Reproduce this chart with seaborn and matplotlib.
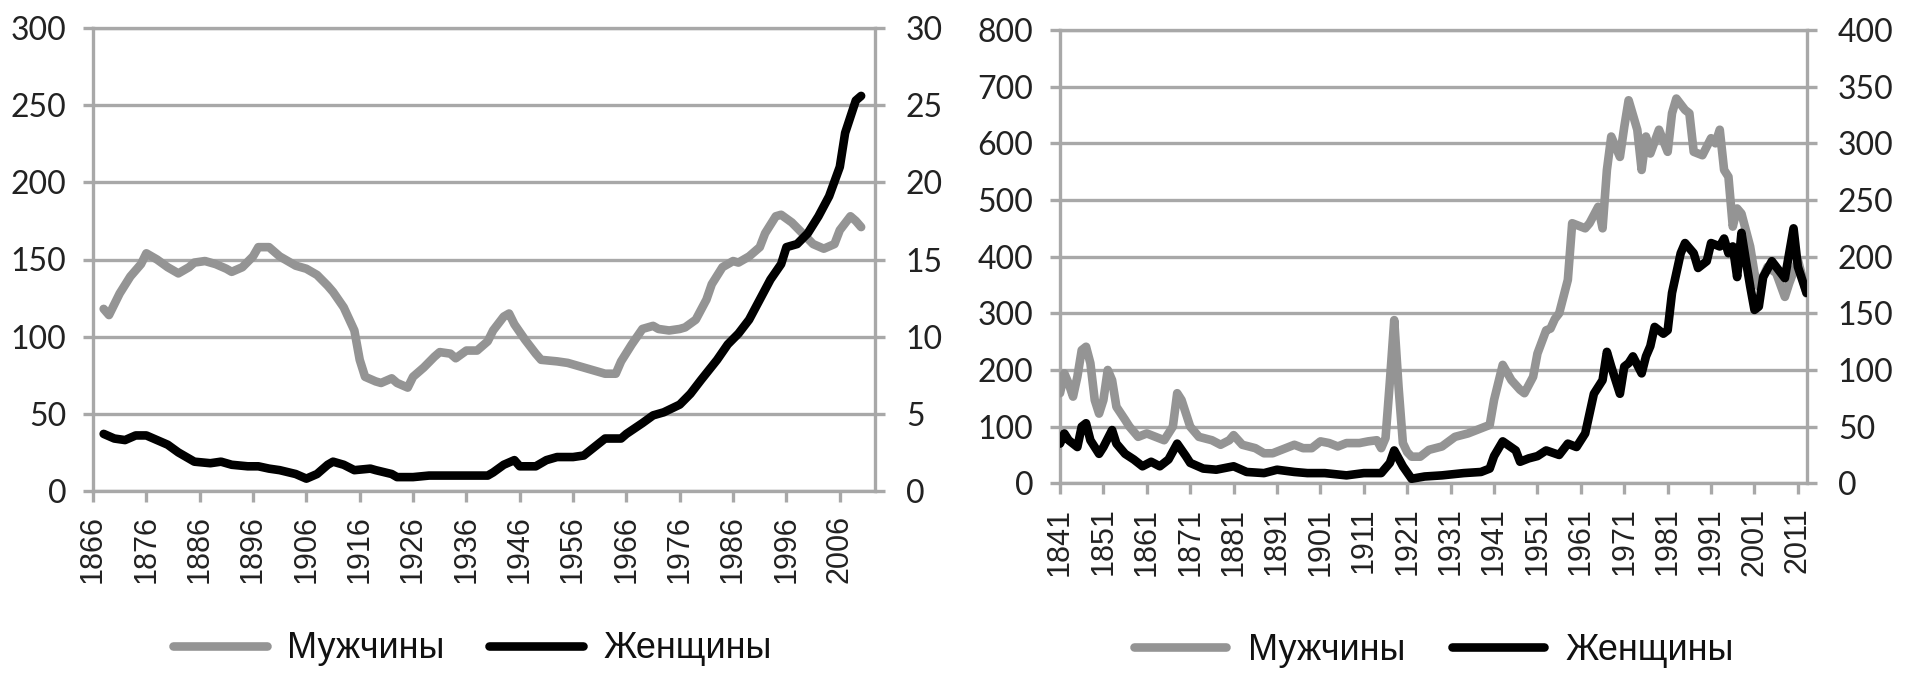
import matplotlib
matplotlib.use("Agg")
import matplotlib.pyplot as plt
from matplotlib.font_manager import FontProperties
import seaborn as sns

# ---------------- data: left chart ----------------
left_men_years = [1868, 1869, 1871, 1873, 1875, 1876, 1878, 1880, 1882, 1884, 1885, 1887, 1889,
                  1891, 1892, 1894, 1896, 1897, 1899, 1901, 1904, 1906, 1908, 1910, 1911, 1913,
                  1915, 1916, 1917, 1919, 1920, 1922, 1923, 1925, 1926, 1928, 1930, 1931, 1933,
                  1934, 1936, 1938, 1940, 1941, 1943, 1944, 1945, 1947, 1949, 1950, 1953, 1955,
                  1957, 1960, 1962, 1964, 1965, 1967, 1969, 1971, 1972, 1974, 1976, 1977, 1979,
                  1981, 1982, 1984, 1986, 1987, 1989, 1991, 1992, 1994, 1995, 1997, 1999, 2001,
                  2003, 2005, 2006, 2008, 2009, 2010]
left_men = [118, 114, 128, 139, 147, 154, 150, 145, 141, 145, 148, 149, 147,
            144, 142, 145, 152, 158, 158, 152, 146, 144, 140, 133, 129, 119,
            104, 85, 74, 71, 70, 73, 70, 67, 74, 80, 87, 90, 89,
            86, 91, 91, 97, 104, 113, 115, 108, 98, 89, 85, 84, 83,
            81, 78, 76, 76, 84, 95, 105, 107, 105, 104, 105, 106, 111,
            124, 134, 145, 149, 148, 152, 158, 167, 178, 179, 174, 167, 160,
            157, 160, 169, 178, 175, 171]

left_women_years = [1868, 1870, 1872, 1874, 1876, 1878, 1880, 1882, 1884, 1885, 1888, 1890, 1892,
                    1895, 1897, 1899, 1901, 1904, 1906, 1908, 1910, 1911, 1913, 1915, 1918, 1919,
                    1922, 1923, 1926, 1929, 1933, 1936, 1940, 1941, 1943, 1945, 1946, 1949, 1951,
                    1953, 1956, 1958, 1960, 1962, 1965, 1966, 1969, 1971, 1973, 1976, 1978, 1980,
                    1983, 1985, 1987, 1989, 1991, 1993, 1995, 1996, 1998, 2000, 2002, 2004, 2006,
                    2007, 2009, 2010]
left_women = [3.7, 3.4, 3.3, 3.6, 3.6, 3.3, 3.0, 2.5, 2.1, 1.9, 1.8, 1.9, 1.7,
              1.6, 1.6, 1.45, 1.35, 1.1, 0.8, 1.1, 1.7, 1.9, 1.7, 1.35, 1.45, 1.35,
              1.1, 0.9, 0.9, 1.0, 1.0, 1.0, 1.0, 1.2, 1.7, 2.0, 1.6, 1.6, 2.0,
              2.2, 2.2, 2.3, 2.85, 3.4, 3.4, 3.7, 4.4, 4.9, 5.1, 5.6, 6.3, 7.2,
              8.5, 9.5, 10.2, 11.1, 12.4, 13.7, 14.7, 15.8, 16.0, 16.7, 17.8, 19.1, 21.0,
              23.2, 25.3, 25.6]

left_xticks = list(range(1866, 2007, 10))
left_y1_ticks = [0, 50, 100, 150, 200, 250, 300]
left_y2_ticks = [0, 5, 10, 15, 20, 25, 30]

# ---------------- data: right chart ----------------
right_men_years = [1841, 1842, 1843, 1844, 1845, 1846, 1847, 1848, 1849, 1850, 1851, 1852, 1853,
                   1854, 1856, 1857, 1859, 1861, 1863, 1865, 1867, 1868, 1869, 1871, 1873, 1876,
                   1878, 1880, 1881, 1883, 1886, 1888, 1890, 1893, 1895, 1897, 1899, 1901, 1903,
                   1905, 1907, 1910, 1912, 1914, 1915, 1916, 1917, 1918, 1919, 1920, 1921, 1922,
                   1924, 1926, 1929, 1932, 1935, 1938, 1940, 1941, 1943, 1945, 1947, 1948, 1950,
                   1951, 1953, 1954, 1955, 1956, 1958, 1959, 1962, 1963, 1965, 1966, 1967, 1968,
                   1970, 1971, 1972, 1974, 1975, 1976, 1977, 1979, 1981, 1982, 1983, 1985, 1986,
                   1987, 1989, 1991, 1992, 1993, 1994, 1995, 1996, 1997, 1998, 2000, 2001, 2002,
                   2004, 2006, 2008, 2009, 2011, 2013]
right_men = [159, 194, 176, 153, 188, 235, 241, 212, 147, 123, 147, 200, 182,
             135, 112, 100, 82, 88, 82, 76, 100, 159, 147, 100, 82, 76,
             68, 76, 85, 68, 62, 53, 53, 62, 68, 62, 62, 74, 71,
             65, 71, 71, 74, 76, 62, 80, 180, 288, 170, 71, 55, 47,
             47, 59, 65, 82, 88, 97, 103, 147, 209, 182, 165, 159, 188,
             229, 270, 273, 290, 300, 359, 459, 450, 459, 488, 450, 553, 612,
             576, 629, 676, 624, 553, 612, 582, 624, 585, 653, 679, 659, 653,
             585, 579, 609, 600, 624, 553, 541, 453, 485, 476, 418, 371, 347,
             382, 371, 329, 353, 394, 335]

right_women_years = [1841, 1842, 1843, 1845, 1846, 1847, 1848, 1850, 1851, 1853, 1854, 1856, 1858,
                     1860, 1862, 1864, 1866, 1868, 1870, 1871, 1874, 1877, 1881, 1884, 1888, 1891,
                     1895, 1898, 1902, 1907, 1911, 1915, 1917, 1918, 1920, 1922, 1925, 1929, 1934,
                     1938, 1940, 1941, 1943, 1946, 1947, 1949, 1951, 1953, 1956, 1958, 1960, 1962,
                     1964, 1966, 1967, 1968, 1970, 1971, 1972, 1973, 1975, 1976, 1977, 1978, 1980,
                     1981, 1982, 1984, 1985, 1987, 1988, 1990, 1991, 1993, 1994, 1995, 1996, 1997,
                     1998, 1999, 2000, 2001, 2002, 2003, 2005, 2006, 2008, 2010, 2011, 2013]
right_women = [35, 44, 38, 32, 50, 53, 38, 26, 32, 47, 35, 26, 21,
               15, 19, 15, 21, 35, 24, 18, 13, 12, 15, 10, 9, 12,
               10, 9, 9, 7, 9, 9, 18, 29, 15, 4, 6, 7, 9,
               10, 13, 24, 37, 29, 19, 22, 24, 29, 25, 35, 32, 44,
               79, 91, 116, 103, 79, 103, 106, 112, 97, 112, 121, 138, 132,
               135, 168, 203, 212, 203, 190, 196, 212, 209, 216, 203, 209, 182,
               221, 197, 174, 153, 156, 182, 196, 191, 181, 225, 191, 168]

right_xticks = list(range(1841, 2012, 10))
right_y1_ticks = [0, 100, 200, 300, 400, 500, 600, 700, 800]
right_y2_ticks = [0, 50, 100, 150, 200, 250, 300, 350, 400]

legend_labels = ["Мужчины", "Женщины"]

# ---------------- style ----------------
sns.set_style("white")
plt.rcParams['font.family'] = ['Liberation Sans', 'DejaVu Sans']

MEN_C = '#949494'
WOMEN_C = '#000000'
GRID_C = '#a8a8a8'
TEXT_C = '#222222'
GLW = 2.4
LW = 6.2

fig = plt.figure(figsize=(19.2, 6.94), dpi=100)


def panel(rect, my, mv, wy, wv, xlim, xticks, y1, y2):
    ax = fig.add_axes(rect)
    ax2 = ax.twinx()
    sns.lineplot(x=my, y=mv, ax=ax, color=MEN_C, linewidth=LW, legend=False,
                 solid_capstyle='round', solid_joinstyle='round', zorder=3)
    sns.lineplot(x=wy, y=wv, ax=ax2, color=WOMEN_C, linewidth=LW, legend=False,
                 solid_capstyle='round', solid_joinstyle='round', zorder=3)
    ax.set_xlim(*xlim)
    ax.set_ylim(y1[0], y1[-1])
    ax2.set_ylim(y2[0], y2[-1])
    ax.set_yticks(y1)
    ax2.set_yticks(y2)
    ax.set_xticks(xticks)
    ax.set_xticklabels([str(t) for t in xticks])
    for a in (ax, ax2):
        a.set_xlabel('')
        a.set_ylabel('')
    ax.yaxis.grid(True, color=GRID_C, linewidth=GLW)
    ax.xaxis.grid(False)
    ax.set_axisbelow(True)
    for s in ax.spines.values():
        s.set_visible(True)
        s.set_color(GRID_C)
        s.set_linewidth(GLW)
    for s in ax2.spines.values():
        s.set_visible(False)
    ax.tick_params(axis='y', left=True, right=False, length=7.2, width=GLW, color=GRID_C,
                   pad=12, labelsize=23, labelcolor=TEXT_C, labelfontfamily='Lato')
    ax2.tick_params(axis='y', right=True, left=False, length=7.2, width=GLW, color=GRID_C,
                    pad=15, labelsize=23, labelcolor=TEXT_C, labelfontfamily='Lato')
    ax.tick_params(axis='x', bottom=True, length=8, width=GLW, color=GRID_C, pad=9.5,
                   labelsize=22, labelrotation=90, labelcolor=TEXT_C)
    ax2.tick_params(axis='x', bottom=False, top=False)
    return ax, ax2


axL, axL2 = panel([93 / 1920, 1 - 491 / 694, 782 / 1920, 463 / 694],
                  left_men_years, left_men, left_women_years, left_women,
                  (1866, 2012.6), left_xticks, left_y1_ticks, left_y2_ticks)
axR, axR2 = panel([1060 / 1920, 1 - 483.3 / 694, 747 / 1920, 453.3 / 694],
                  right_men_years, right_men, right_women_years, right_women,
                  (1841, 2013.1), right_xticks, right_y1_ticks, right_y2_ticks)

leg_font = FontProperties(family=['Liberation Sans', 'DejaVu Sans'], size=26)
for (a1, a2, x0, y0, hl, tp, cs) in [(axL, axL2, 173 / 1920, 1 - 649 / 694, 2.6, 0.55, 1.25),
                                     (axR, axR2, 1134 / 1920, 1 - 650 / 694, 2.55, 0.6, 1.3)]:
    leg = fig.legend(handles=[a1.lines[0], a2.lines[0]], labels=legend_labels,
                     loc='center left', bbox_to_anchor=(x0, y0), ncol=2, frameon=False,
                     prop=leg_font, handlelength=hl, handletextpad=tp, columnspacing=cs,
                     borderaxespad=0, borderpad=0)
    for t in leg.get_texts():
        t.set_color('#111111')

fig.savefig('out.png', dpi=100)
